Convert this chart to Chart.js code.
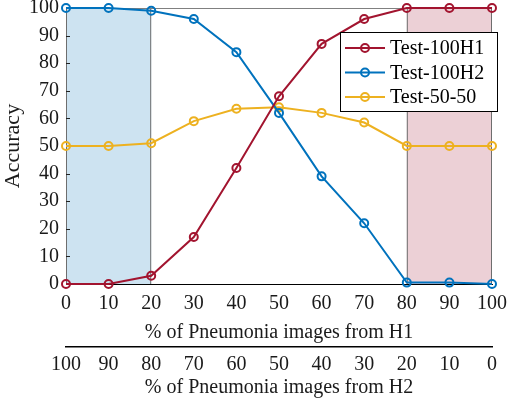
<!DOCTYPE html>
<html lang="en">
<head>
    <meta charset="UTF-8">
    <title>Accuracy vs % of Pneumonia images</title>
    <script src="https://cdn.jsdelivr.net/npm/chart.js@4.4.0/dist/chart.umd.min.js"></script>
    <style>
        html, body {
            margin: 0;
            padding: 0;
            background: #fff;
        }
        #wrap {
            width: 508px;
            height: 398px;
        }
    </style>
</head>
<body>
    <div id="wrap">
        <canvas id="chart"></canvas>
    </div>

    <script>
        // Data
        const h1Share = [0, 10, 20, 30, 40, 50, 60, 70, 80, 90, 100];
        const test100H1 = [0, 0, 3, 17, 42, 68, 87, 96, 100, 100, 100];
        const test100H2 = [100, 100, 99, 96, 84, 62, 39, 22, 0.5, 0.5, 0];
        const test5050 = [50, 50, 51, 59, 63.5, 64, 62, 58.5, 50, 50, 50];
        const seriesNames = ['Test-100H1', 'Test-100H2', 'Test-50-50'];
        const seriesColors = ['#A2142F', '#0072BD', '#EDB120'];
        const shadedRanges = [[0, 20, '#cde3f1'], [80, 100, '#ecd0d6']];

        const FONT = 'Liberation Serif, Times New Roman, serif';
        const TEXT = '#1a1a1a';

        function toPoints(values) {
            return values.map((v, i) => ({ x: h1Share[i], y: v }));
        }

        const series = [test100H1, test100H2, test5050];

        // shaded boxes, top border line and small inward ticks
        const backdrop = {
            id: 'backdrop',
            beforeDatasetsDraw(chart) {
                const ctx = chart.ctx;
                const x = chart.scales.x, y = chart.scales.y;
                const top = y.getPixelForValue(100), bottom = y.getPixelForValue(0);
                ctx.save();
                shadedRanges.forEach(([a, b, c]) => {
                    const x0 = x.getPixelForValue(a), x1 = x.getPixelForValue(b);
                    ctx.fillStyle = c;
                    ctx.fillRect(x0, top, x1 - x0, bottom - top);
                    ctx.strokeStyle = '#6e6e6e';
                    ctx.lineWidth = 1;
                    ctx.beginPath();
                    ctx.moveTo(x0 + 0.5, top);
                    ctx.lineTo(x0 + 0.5, bottom);
                    ctx.moveTo(x1 - 0.5, top);
                    ctx.lineTo(x1 - 0.5, bottom);
                    ctx.stroke();
                });
                ctx.strokeStyle = '#808080';
                ctx.beginPath();
                ctx.moveTo(x.left, top + 0.5);
                ctx.lineTo(x.right, top + 0.5);
                ctx.stroke();
                // inward ticks on the y axis
                ctx.strokeStyle = '#222';
                ctx.beginPath();
                for (let v = 10; v < 100; v += 10) {
                    const py = Math.round(y.getPixelForValue(v)) + 0.5;
                    ctx.moveTo(x.left, py);
                    ctx.lineTo(x.left + 4, py);
                }
                ctx.stroke();
                ctx.restore();
            }
        };

        // legend box drawn inside the plot
        const boxLegend = {
            id: 'boxLegend',
            afterDatasetsDraw(chart) {
                const ctx = chart.ctx;
                const left = 340, top = 32, w = 157, h = 79;
                ctx.save();
                ctx.fillStyle = '#fff';
                ctx.fillRect(left, top, w, h);
                ctx.strokeStyle = '#000';
                ctx.lineWidth = 1;
                ctx.strokeRect(left + 0.5, top + 0.5, w, h);
                ctx.font = '20px ' + FONT;
                ctx.textBaseline = 'middle';
                seriesNames.forEach((name, i) => {
                    const cy = top + 16 + i * 24.5;
                    ctx.strokeStyle = seriesColors[i];
                    ctx.lineWidth = 2;
                    ctx.beginPath();
                    ctx.moveTo(345, cy);
                    ctx.lineTo(385, cy);
                    ctx.stroke();
                    ctx.beginPath();
                    ctx.arc(365, cy, 4, 0, Math.PI * 2);
                    ctx.stroke();
                    ctx.fillStyle = '#000';
                    ctx.fillText(name, 390, cy + 1);
                });
                ctx.restore();
            }
        };

        const tickFont = { family: FONT, size: 20 };

        new Chart(document.getElementById('chart'), {
            type: 'line',
            data: {
                datasets: series.map((vals, i) => ({
                    label: seriesNames[i],
                    data: toPoints(vals),
                    borderColor: seriesColors[i],
                    backgroundColor: 'transparent',
                    borderWidth: 2,
                    pointRadius: 4,
                    pointBorderWidth: 2,
                    pointBackgroundColor: 'transparent',
                    pointBorderColor: seriesColors[i],
                    tension: 0,
                    clip: false
                }))
            },
            options: {
                responsive: true,
                maintainAspectRatio: false,
                animation: false,
                layout: { padding: { top: 0, right: 16, left: 0, bottom: 0 } },
                plugins: {
                    legend: { display: false },
                    tooltip: { enabled: false }
                },
                scales: {
                    x: {
                        type: 'linear',
                        position: 'bottom',
                        min: 0,
                        max: 100,
                        grid: { display: false, drawTicks: false },
                        border: { display: true, color: '#000', width: 1 },
                        ticks: { stepSize: 10, autoSkip: false, maxRotation: 0, color: TEXT, font: tickFont, padding: 8 },
                        title: { display: true, text: '% of Pneumonia images from H1', color: TEXT, font: tickFont, padding: { top: 0, bottom: 2 } },
                        afterFit(s) { s.height = 63; s.paddingLeft = 0; s.paddingRight = 0; }
                    },
                    x2: {
                        type: 'linear',
                        position: 'bottom',
                        reverse: true,
                        min: 0,
                        max: 100,
                        grid: { display: false, drawTicks: false },
                        border: { display: true, color: '#000', width: 1.5 },
                        ticks: { stepSize: 10, autoSkip: false, maxRotation: 0, color: TEXT, font: tickFont, padding: 6 },
                        title: { display: true, text: '% of Pneumonia images from H2', color: TEXT, font: tickFont, padding: { top: 0, bottom: -2 } },
                        afterFit(s) { s.height = 51; s.paddingLeft = 0; s.paddingRight = 0; }
                    },
                    y: {
                        min: 0,
                        max: 100,
                        grid: { display: false, drawTicks: false },
                        border: { display: true, color: '#000', width: 1 },
                        ticks: { stepSize: 10, autoSkip: false, color: TEXT, font: tickFont, padding: 7 },
                        title: { display: true, text: 'Accuracy', color: TEXT, font: { family: FONT, size: 22 }, padding: { top: 0, bottom: 0 } },
                        afterFit(s) { s.width = 66; s.paddingTop = 8; s.paddingBottom = 0; }
                    }
                }
            },
            plugins: [backdrop, boxLegend]
        });
    </script>
</body>
</html>
